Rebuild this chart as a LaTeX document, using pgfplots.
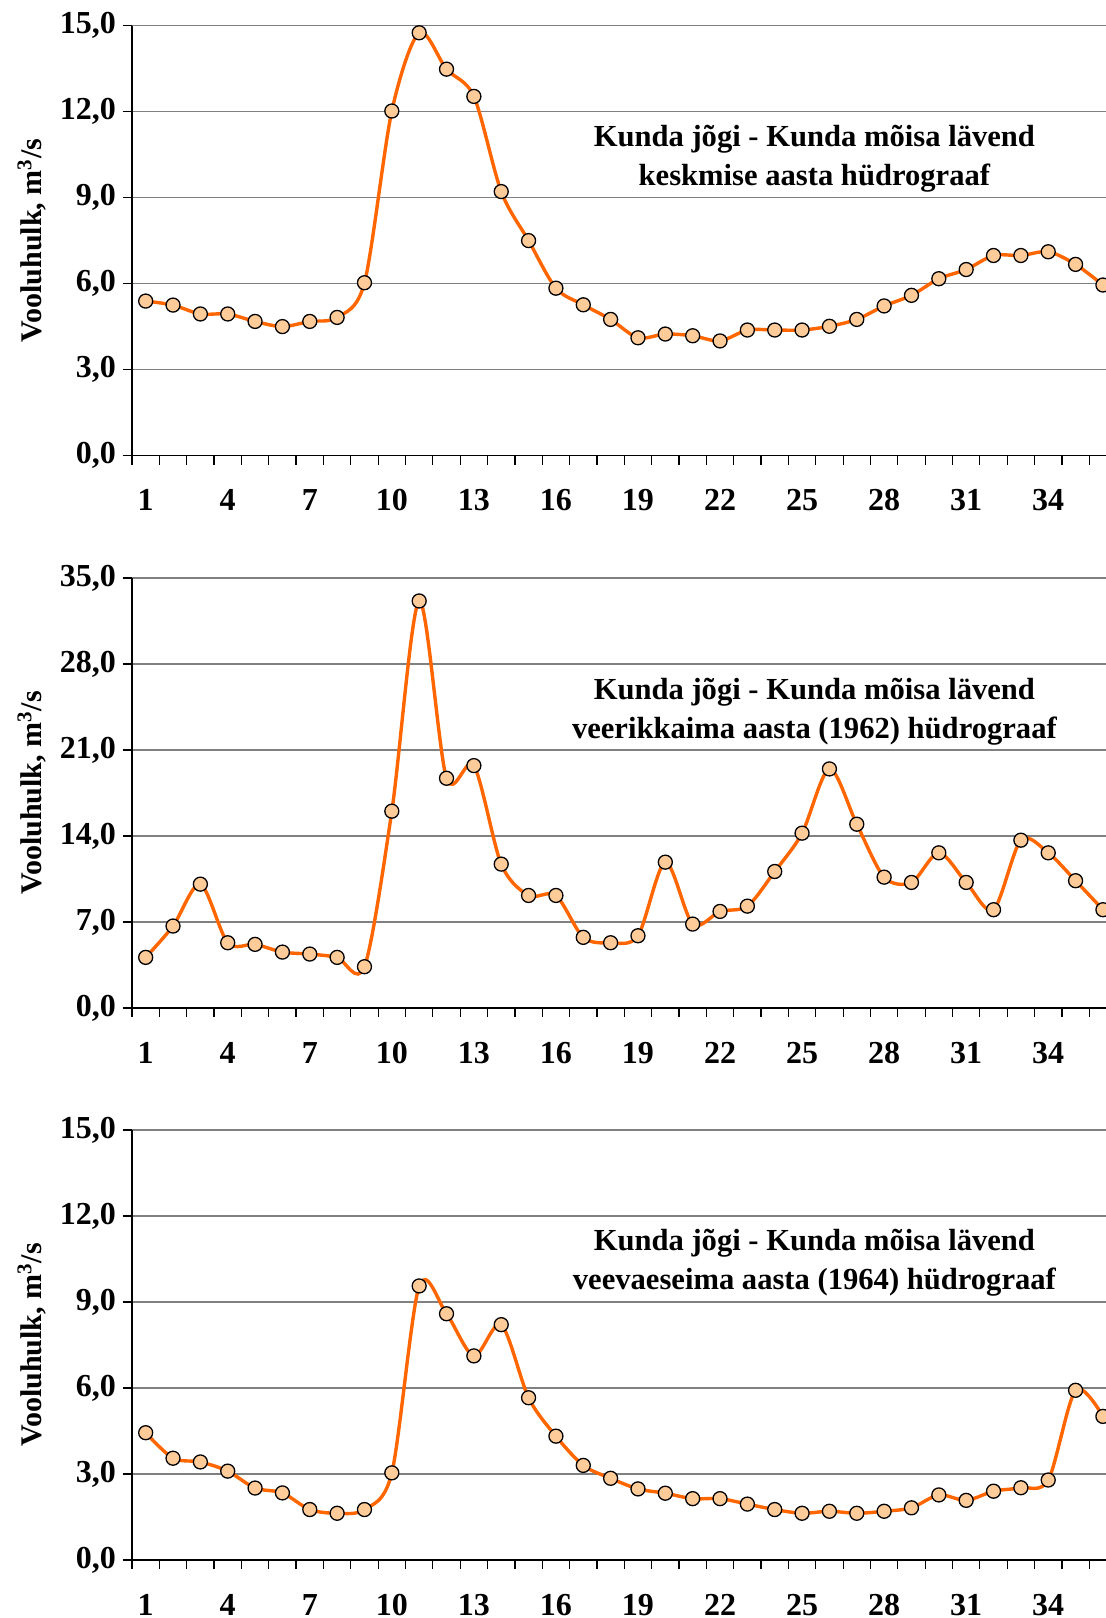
\documentclass[border=0pt]{standalone}
\usepackage{fontspec}
\setmainfont{Liberation Serif}
\usepackage{pgfplots}
\pgfplotsset{compat=1.18}
\definecolor{flow}{HTML}{FF6600}
\definecolor{dot}{HTML}{FFCC99}
\definecolor{gridgray}{HTML}{808080}

\tikzset{hydtitle/.style={align=center, font=\bfseries\fontsize{15.3}{19.5}\selectfont}}
\pgfplotsset{
  hydro/.style={
    scale only axis, width=492.3pt, height=215pt,
    anchor=south west,
    xmin=0.5, xmax=36.5, ymin=0,
    axis x line=bottom, axis y line=left,
    axis line style={-, black, line width=0.7pt},
    xtick={1,4,...,34},
    minor xtick={0.5,1.5,...,36.5},
    major x tick style={draw=none},
    minor x tick style={black, line width=0.6pt},
    y tick style={black, line width=0.6pt},
    tick align=outside,
    major tick length=4.5pt, minor tick length=4.5pt,
    ymajorgrids, major grid style={gridgray, line width=0.6pt},
    /pgf/number format/assume math mode=true,
    tick label style={font=\bfseries\fontsize{16}{16}\selectfont},
    xticklabel style={yshift=-9pt},
    yticklabel style={/pgf/number format/.cd, fixed, fixed zerofill, precision=1, use comma},
    ylabel={Vooluhulk, m\textsuperscript{3}/s},
    ylabel style={at={(axis description cs:-0.1016,0.5)}, anchor=center,
                  font=\bfseries\fontsize{15}{15}\selectfont},
    clip=false,
  },
  series/.style={flow, line width=1.7pt, smooth, tension=0.5,
    mark=*, mark size=3.5pt, mark options={fill=dot, draw=black, line width=0.65pt}},
}

\begin{document}
\begin{tikzpicture}
\clip (0,0) rectangle (553pt,809pt);

% keskmine aasta
\begin{axis}[hydro, at={(66pt,581.2pt)}, ymax=15, ytick={0,3,...,15}]
\addplot[series] coordinates {
(1,5.39) (2,5.25) (3,4.94) (4,4.94) (5,4.68) (6,4.50) (7,4.68) (8,4.82) (9,6.03)
(10,12.02) (11,14.75) (12,13.48) (13,12.53) (14,9.21) (15,7.50) (16,5.84) (17,5.26)
(18,4.75) (19,4.11) (20,4.24) (21,4.18) (22,4.00) (23,4.38) (24,4.38) (25,4.38)
(26,4.51) (27,4.75) (28,5.22) (29,5.59) (30,6.17) (31,6.49) (32,6.98) (33,6.98)
(34,7.11) (35,6.67) (36,5.95)};
\node[hydtitle] at (axis cs:25.45,10.36) {Kunda jõgi - Kunda mõisa lävend\\keskmise aasta hüdrograaf};
\end{axis}

% veerikkaim aasta 1962
\begin{axis}[hydro, at={(66pt,305pt)}, ymax=35, ytick={0,7,...,35}]
\addplot[series] coordinates {
(1,4.12) (2,6.67) (3,10.08) (4,5.31) (5,5.18) (6,4.55) (7,4.39) (8,4.12) (9,3.36)
(10,16.02) (11,33.13) (12,18.70) (13,19.73) (14,11.71) (15,9.16) (16,9.16) (17,5.75)
(18,5.31) (19,5.88) (20,11.87) (21,6.83) (22,7.86) (23,8.29) (24,11.11) (25,14.23)
(26,19.46) (27,14.96) (28,10.65) (29,10.22) (30,12.63) (31,10.22) (32,8.00) (33,13.66)
(34,12.63) (35,10.36) (36,8.00)};
\node[hydtitle] at (axis cs:25.45,24.15) {Kunda jõgi - Kunda mõisa lävend\\veerikkaima aasta (1962) hüdrograaf};
\end{axis}

% veevaeseim aasta 1964
\begin{axis}[hydro, at={(66pt,29pt)}, ymax=15, ytick={0,3,...,15}]
\addplot[series] coordinates {
(1,4.44) (2,3.55) (3,3.42) (4,3.10) (5,2.51) (6,2.34) (7,1.76) (8,1.63) (9,1.76)
(10,3.04) (11,9.56) (12,8.59) (13,7.12) (14,8.21) (15,5.66) (16,4.32) (17,3.30)
(18,2.85) (19,2.48) (20,2.33) (21,2.14) (22,2.14) (23,1.95) (24,1.76) (25,1.63)
(26,1.70) (27,1.63) (28,1.70) (29,1.82) (30,2.27) (31,2.08) (32,2.40) (33,2.52)
(34,2.79) (35,5.92) (36,5.01)};
\node[hydtitle] at (axis cs:25.45,10.37) {Kunda jõgi - Kunda mõisa lävend\\veevaeseima aasta (1964) hüdrograaf};
\end{axis}
\end{tikzpicture}
\end{document}
